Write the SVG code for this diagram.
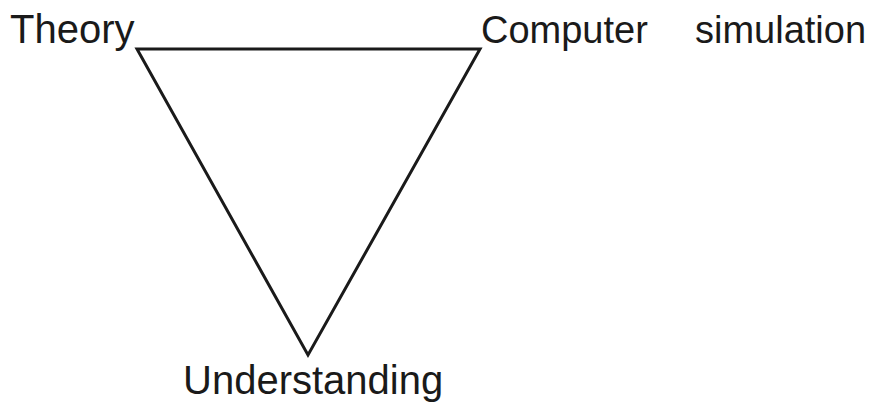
<svg xmlns="http://www.w3.org/2000/svg" width="873" height="404" viewBox="0 0 873 404">
<style>
.lbl{font-family:"Liberation Sans",Arial,sans-serif;font-size:40px;fill:#1a1a1a}
.edge{stroke:#1a1a1a;stroke-width:3;fill:none;stroke-linejoin:miter}
</style>
<rect width="873" height="404" fill="#ffffff"/>
<g id="connectors">
<path class="edge" d="M137,49 L480,49 L308,355 Z"/>
</g>
<g id="theory"><text class="lbl" x="10" y="43">Theory</text></g>
<g id="computer-simulation"><text class="lbl" x="481" y="43" style="font-size:38px">Computer</text><text class="lbl" x="695" y="43" style="font-size:38px">simulation</text></g>
<g id="understanding"><text class="lbl" x="183" y="394">Understanding</text></g>
</svg>
